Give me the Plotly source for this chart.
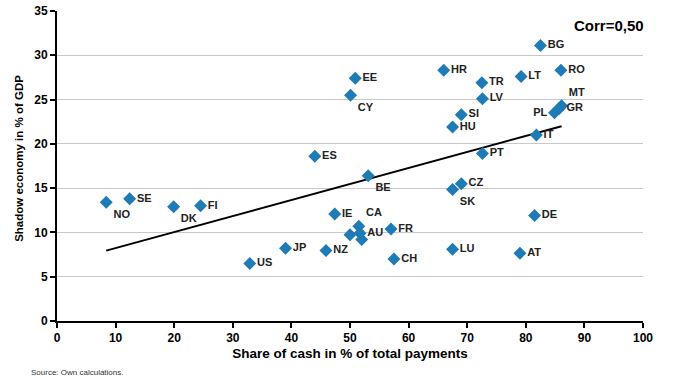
import plotly.graph_objects as go

countries = ["BG", "HR", "EE", "TR", "LT", "RO", "CY", "LV", "MT", "GR", "PL", "SI", "HU",
             "IT", "PT", "ES", "NO", "SE", "DK", "FI", "US", "JP", "NZ", "IE", "BE", "CZ",
             "SK", "DE", "FR", "CA", "AU", "", "", "LU", "AT", "CH"]
cash_share = [82.5, 66.0, 50.9, 72.5, 79.2, 86.0, 50.1, 72.6, 86.1, 85.7, 84.9, 69.0, 67.5,
              81.8, 72.6, 44.0, 8.4, 12.4, 19.9, 24.5, 32.9, 39.0, 45.9, 47.4, 53.1, 69.0,
              67.5, 81.5, 57.0, 51.5, 51.7, 50.0, 52.0, 67.5, 79.0, 57.5]
shadow_economy = [31.1, 28.3, 27.4, 26.9, 27.6, 28.3, 25.5, 25.1, 24.3, 24.0, 23.5, 23.3, 21.9,
                  21.0, 18.9, 18.6, 13.4, 13.8, 12.9, 13.0, 6.5, 8.2, 7.95, 12.07, 16.4, 15.5,
                  14.85, 11.9, 10.4, 10.7, 9.9, 9.75, 9.2, 8.1, 7.65, 7.0]
label_positions = ["middle right", "middle right", "middle right", "middle right", "middle right",
                   "middle right", "bottom right", "middle right", "top right", "middle right",
                   "middle left", "middle right", "middle right", "middle right", "middle right",
                   "middle right", "bottom right", "middle right", "bottom right", "middle right",
                   "middle right", "middle right", "middle right", "middle right", "bottom right",
                   "middle right", "bottom right", "middle right", "middle right", "top right",
                   "middle right", "middle right", "middle right", "middle right", "middle right",
                   "middle right"]
trend_slope = 0.1808
trend_intercept = 6.43
corr_text = "Corr=0,50"
x_title = "Share of cash in % of total payments"
y_title = "Shadow economy in % of GDP"
source_text = "Source: Own calculations."
x_ticks = list(range(0, 101, 10))
y_ticks = list(range(0, 36, 5))

FONT = "Liberation Sans, Arial, sans-serif"
BLUE = "#1f7bb6"

fig = go.Figure()

tx = [min(cash_share), max(cash_share)]
ty = [trend_intercept + trend_slope * v for v in tx]
fig.add_trace(go.Scatter(x=tx, y=ty, mode="lines",
                         line=dict(color="black", width=2), hoverinfo="skip",
                         showlegend=False))

fig.add_trace(go.Scatter(
    x=cash_share, y=shadow_economy, mode="markers+text",
    text=["<b>%s</b>" % c if c else "" for c in countries],
    textposition=label_positions,
    textfont=dict(family=FONT, size=11, color="#222222"),
    marker=dict(symbol="diamond", size=10, color=BLUE),
    cliponaxis=False,
    showlegend=False))

fig.add_annotation(text="<b>%s</b>" % corr_text, xref="paper", yref="paper",
                   x=1.005, y=0.952, xanchor="right", yanchor="middle", showarrow=False,
                   font=dict(family=FONT, size=15, color="black"))

fig.add_annotation(text="<b>%s</b>" % y_title, xref="paper", yref="paper",
                   x=-0.065, y=0.526, xanchor="center", yanchor="middle", showarrow=False,
                   textangle=-90, font=dict(family=FONT, size=11.5, color="black"))

fig.add_annotation(text=source_text, xref="paper", yref="paper",
                   x=-0.047, y=-0.165, xanchor="left", yanchor="middle", showarrow=False,
                   font=dict(family=FONT, size=8, color="#333333"))

fig.update_xaxes(range=[0, 100], tickvals=x_ticks,
                 ticktext=["<b>%d</b>" % v for v in x_ticks],
                 showgrid=False, zeroline=False, automargin=False,
                 showline=True, linecolor="black", linewidth=2,
                 ticks="outside", ticklen=5, tickwidth=2, tickcolor="black",
                 tickfont=dict(family=FONT, size=12, color="black"),
                 title=dict(text="<b>%s</b>" % x_title,
                            font=dict(family=FONT, size=13.5, color="black"), standoff=4))
fig.update_yaxes(range=[0, 35], tickvals=y_ticks,
                 ticktext=["<b>%d</b>" % v for v in y_ticks],
                 showgrid=True, gridcolor="#c8c8c8", gridwidth=1, zeroline=False,
                 automargin=False,
                 showline=True, linecolor="black", linewidth=2,
                 ticks="outside", ticklen=5, tickwidth=2, tickcolor="black",
                 tickfont=dict(family=FONT, size=12, color="black"))

fig.update_layout(width=675, height=380, margin=dict(l=57, r=32, t=11, b=59),
                  plot_bgcolor="white", paper_bgcolor="white")

fig.write_html("out.html", config={"displayModeBar": False},
               post_script="document.body.style.margin='0';")
